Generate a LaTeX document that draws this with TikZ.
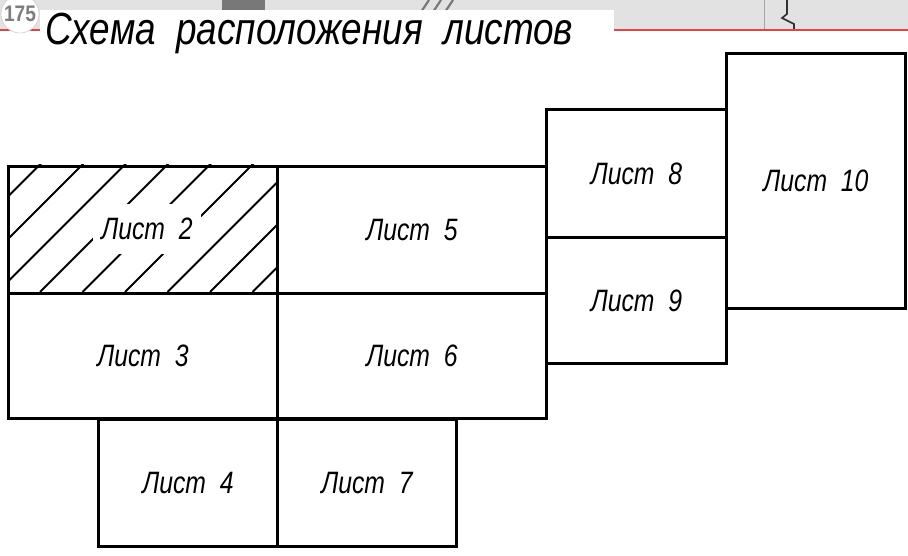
\documentclass[tikz,border=0pt]{standalone}
\usepackage{fontspec}
\usepackage{tikz}
\newfontfamily\gostfont[FakeStretch=0.8]{Liberation Sans}
\newfontfamily\titlefont[FakeStretch=0.82]{Liberation Sans}
\newfontfamily\badgefont[FakeStretch=0.85]{Liberation Sans}
\definecolor{BandGray}{RGB}{226,226,226}
\definecolor{BarGray}{RGB}{120,120,120}
\definecolor{BadgeGray}{RGB}{125,125,125}
\definecolor{LineRed}{RGB}{222,70,70}

\tikzset{
  sheet/.style 2 args={draw, line width=2pt, anchor=north west, inner sep=0pt,
    minimum width=#1*0.025cm, minimum height=#2*0.025cm,
    font=\gostfont\itshape\fontsize{22}{24}\selectfont},
  hatchline/.style={line width=1.3pt},
}

\begin{document}
\begin{tikzpicture}[x=0.025cm, y=-0.025cm]
  \useasboundingbox (0,0) rectangle (908,556);

  \fill[BandGray] (0,0) rectangle (908,30);
  \fill[BarGray] (222,0) rectangle (265,10);
  \draw[BarGray, line width=1.5pt] (421,12) -- (429,0) (433,12) -- (441,0) (445,12) -- (453,0);
  \draw[gray!70, line width=0.4pt] (764,0) -- (764,30);
  \draw[gray!40!black, line width=1.2pt] (787,0) -- (787,14) -- (782,18) -- (794,24) -- (794,30);
  \fill[white] (853,30) arc[start angle=180, end angle=0, radius=17];
  \draw[LineRed, line width=1.2pt] (0,30) -- (908,30);
  \fill[white] (40,10) rectangle (614,62);

  \node[circle, draw=gray!40, fill=white, minimum size=38*0.025cm, inner sep=0pt,
        text=BadgeGray, font=\badgefont\bfseries\fontsize{16}{16}\selectfont] (badge) at (20,14) {175};
  \node[anchor=base west, inner sep=0pt,
        font=\titlefont\itshape\fontsize{32}{34}\selectfont] (title) at (45,45)
        {Схема\ \ расположения\ \ листов};

  \node[sheet={269}{127}] (s2) at (7,165) {};
  \begin{scope}
    \clip (s2.north west) rectangle (s2.south east);
    \foreach \k in {-4,...,6}
      \draw[hatchline] ({40+42.5*\k},292) -- ++(150,-150);
  \end{scope}
  \node[fill=white, inner xsep=6pt, inner ysep=10pt,
        font=\gostfont\itshape\fontsize{22}{24}\selectfont] (l2) at (147,229) {Лист\ \ 2};

  \node[sheet={269}{127}] (s5) at (276,165) {Лист\ \ 5};
  \node[sheet={269}{125}] (s3) at (7,292) {Лист\ \ 3};
  \node[sheet={269}{125}] (s6) at (276,292) {Лист\ \ 6};
  \node[sheet={179}{127}] (s4) at (97,418) {Лист\ \ 4};
  \node[sheet={179}{127}] (s7) at (276,418) {Лист\ \ 7};
  \node[sheet={180}{128}] (s8) at (545,108) {Лист\ \ 8};
  \node[sheet={180}{126}] (s9) at (545,236) {Лист\ \ 9};
  \node[sheet={179}{255}] (s10) at (725,52) {Лист\ \ 10};
\end{tikzpicture}
\end{document}
